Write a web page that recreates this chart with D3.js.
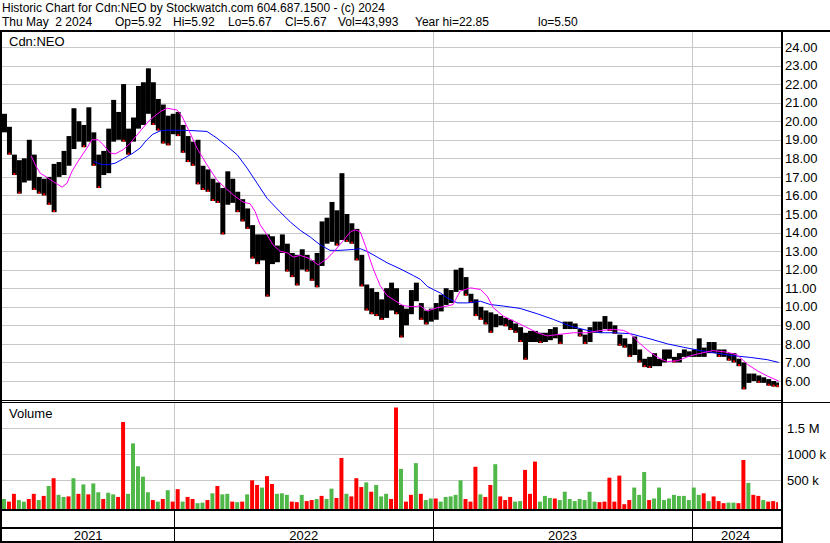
<!DOCTYPE html>
<html><head><meta charset="utf-8">
<script src="https://cdn.jsdelivr.net/npm/d3@7"></script>
<style>
body{margin:0;background:#fff;}
svg{display:block;font-family:"Liberation Sans",Arial,sans-serif;}
text{font-size:13px;fill:#000;}
</style></head><body>
<svg id="c" width="830" height="543"></svg>
<script>
const titleLine1 = "Historic Chart for Cdn:NEO by Stockwatch.com 604.687.1500 - (c) 2024";
const titleFields = ["Thu May  2 2024", "Op=5.92", "Hi=5.92", "Lo=5.67", "Cl=5.67", "Vol=43,993", "Year hi=22.85", "lo=5.50"];
const symbolLabel = "Cdn:NEO";
const volumeLabel = "Volume";
const firstWeek = "2021-05-03";
const lastDay = "2024-05-03";

// weekly high / low (price), one per week from firstWeek
const weeklyHigh = [20.4,19.7,18.2,17.9,18.0,19.0,18.2,17.0,16.9,17.0,
17.7,17.8,18.4,19.2,20.7,20.0,19.8,20.75,19.4,18.2,
18.4,19.6,21.15,20.5,22.0,19.6,20.2,21.9,22.1,22.85,
22.1,21.2,20.9,20.3,20.4,20.5,19.8,19.2,18.9,19.0,
17.6,17.4,16.9,16.7,16.4,17.3,16.9,16.2,15.8,15.3,
14.4,13.9,13.9,13.9,13.8,13.3,13.9,13.4,12.9,12.8,
13.1,12.8,12.5,12.9,14.6,14.8,15.65,15.2,17.2,15.0,
14.5,14.2,12.8,11.2,11.0,10.8,10.4,11.0,11.3,11.0,
10.1,9.9,10.9,11.3,10.2,9.8,9.9,10.2,10.65,11.0,
10.9,12.0,12.1,11.6,10.7,10.4,10.0,9.8,9.7,9.6,
9.5,9.4,9.3,9.1,8.9,8.6,8.7,8.7,8.6,8.6,
8.8,8.9,8.5,9.2,9.2,9.1,8.8,8.5,8.9,9.2,
9.2,9.5,9.2,9.0,8.5,8.3,8.0,8.4,7.7,7.2,
7.3,7.5,7.2,7.7,7.7,7.3,7.5,7.7,7.6,7.7,
8.3,7.8,8.1,8.1,7.7,7.7,7.5,7.5,7.2,7.0,
6.4,6.4,6.3,6.2,6.1,6.0,5.92];
const weeklyLow = [19.4,18.2,17.1,16.1,16.7,16.8,16.3,16.1,16.0,15.5,
15.1,17.0,17.1,17.6,18.5,18.9,18.6,18.9,17.6,16.4,
17.1,17.2,18.9,19.0,18.9,18.2,18.9,19.6,19.8,20.4,
19.8,19.5,18.8,18.7,19.3,19.2,18.3,17.8,17.6,16.6,
16.3,16.2,15.7,15.6,13.9,15.5,15.6,15.1,14.6,14.2,
12.6,12.3,12.5,10.55,12.3,12.4,12.9,11.9,11.6,11.15,
12.0,11.9,11.4,11.05,12.2,13.4,13.5,13.3,13.6,13.5,
13.4,12.5,11.1,9.8,9.6,9.5,9.3,9.4,9.8,9.6,
8.35,9.0,9.6,10.3,9.3,9.05,9.2,9.3,9.75,10.1,
10.2,10.8,10.9,10.6,10.2,9.5,9.3,9.05,8.6,8.9,
9.0,8.95,8.75,8.6,8.1,7.15,8.1,8.1,8.05,8.1,
8.2,8.3,8.0,8.8,8.8,8.8,8.4,8.0,8.1,8.6,
8.6,8.8,8.7,8.55,7.9,7.8,7.3,7.4,7.0,6.75,
6.7,6.8,6.8,7.0,7.2,7.0,7.0,7.3,7.3,7.3,
7.3,7.3,7.5,7.5,7.3,7.3,7.1,7.0,6.8,5.55,
5.9,6.0,5.9,5.9,5.75,5.7,5.67];

// weekly volume (thousands of shares) and direction (g = up, r = down)
const weeklyVolume = [140,90,240,120,90,140,240,120,200,390,
540,220,180,190,540,240,420,230,440,270,
140,260,230,180,1620,240,1210,770,570,270,
120,90,140,310,90,330,90,180,140,60,
70,120,250,390,230,240,90,80,90,230,
500,410,360,580,430,240,250,220,90,80,
220,100,120,140,200,140,340,160,930,240,
190,540,370,460,280,410,190,240,140,1900,
720,90,220,830,240,120,150,150,90,180,
190,220,500,140,90,760,230,180,410,810,
190,120,180,90,100,700,240,860,90,200,
160,150,120,280,140,100,140,120,280,90,
80,90,550,90,590,40,120,360,220,660,
120,150,360,120,150,220,200,200,120,360,
220,250,100,190,100,60,70,70,60,890,
450,220,200,120,90,100,80];
const volumeDirection = "grrggrrgrg" + "rggrgrgrgg" + "rggrrggggg" + "rgrgrrgrrg" +
  "grgrggrgrg" + "rrgrrgggrr" + "grrgrggrrg" + "rrrgrgggrr" + "grrgrggrgg" +
  "gggrrrgrrg" + "rrrggrrrgg" + "grgggggggg" + "rrrrrrrggg" + "rggggggggg" +
  "grgrrrggrr" + "grrgrrr";

// moving averages: position in weeks from firstWeek, price
const maFastWeek = [5.9,6.7,7.7,9.1,10.3,12.1,13.1,14.1,15.3,17.1,18.1,19.4,20.4,21.8,22.8,24.4,25.8,27.8,29.8,31.9,
33.3,35.3,36.3,37.9,39.3,41.3,43.3,45.0,46.6,48.6,50.0,51.0,52.0,53.4,54.6,56.0,57.5,58.7,60.1,62.1,
63.7,65.5,67.1,68.8,70.2,71.2,72.2,73.2,74.8,76.2,77.6,79.2,80.8,82.9,84.3,85.7,87.7,89.7,90.9,92.3,
94.4,96.4,97.8,99.0,101.0,103.8,105.8,107.9,109.9,112.5,115.1,117.9,120.6,123.2,125.2,126.6,128.6,130.6,132.7,134.1,
136.1,138.7,140.7,143.3,146.2,148.2,150.2,152.2,154.2,156.5];
const maFastValue = [18.13,17.65,17.2,16.97,16.75,16.45,16.66,17.3,17.83,18.55,19.0,19.0,18.73,18.28,18.24,18.46,18.8,19.45,20.07,20.52,
20.7,20.6,20.25,19.36,18.55,17.65,16.84,16.4,16.03,15.64,15.55,15.14,14.42,13.88,13.34,13.0,12.9,12.68,12.77,12.59,
12.26,12.59,13.04,13.58,14.03,14.15,14.03,13.31,12.05,11.14,10.6,10.33,10.06,10.0,10.05,9.77,9.95,10.04,10.12,10.84,
11.02,10.93,10.57,9.95,9.5,9.14,8.88,8.6,8.43,8.52,8.6,8.6,8.72,8.78,8.73,8.55,8.0,7.55,7.18,7.05,
7.09,7.36,7.49,7.64,7.55,7.4,6.9,6.55,6.27,6.0];
const maSlowWeek = [18.5,19.8,21.2,22.8,24.4,26.4,27.8,29.2,30.4,31.9,33.3,37.9,41.3,43.3,45.4,47.4,49.4,51.4,53.4,56.0,
58.1,60.1,62.1,64.1,66.1,68.1,70.8,72.2,73.6,75.6,77.6,80.2,82.9,84.3,85.7,86.9,88.3,89.7,91.7,93.8,
96.4,98.4,101.0,104.4,107.9,111.1,114.5,117.9,120.6,123.2,126.6,130.6,134.1,137.3,140.7,144.2,147.4,150.8,154.2,156.5];
const maSlowValue = [17.83,17.69,17.65,17.74,17.97,18.28,18.55,19.0,19.3,19.48,19.52,19.5,19.45,19.09,18.64,18.19,17.47,16.66,15.85,15.12,
14.57,14.12,13.76,13.34,13.04,13.04,13.09,13.13,12.98,12.68,12.37,12.05,11.68,11.48,11.1,10.93,10.75,10.48,10.21,10.21,
10.3,10.12,10.04,9.91,9.62,9.32,8.96,8.73,8.6,8.6,8.55,8.27,8.0,7.82,7.64,7.49,7.36,7.27,7.15,7.0];

const priceTicks = [6,7,8,9,10,11,12,13,14,15,16,17,18,19,20,21,22,23,24];
const volumeTicks = [500,1000,1500];
const volumeTickLabels = ["500 k","1000 k","1.5 M"];
const yearStarts = ["2022-01-01","2023-01-01","2024-01-01"];
const yearLabels = ["2021","2022","2023","2024"];

// ---------- layout ----------
const L = 2, R = 781, PT = 31, PB = 400, VT = 403, VB = 509;
const fieldX = [2, 115, 173, 228, 285, 338, 415, 538];
const svg = d3.select("#c");
const parse = d3.timeParse("%Y-%m-%d");
const t0 = parse(firstWeek), t1 = parse(lastDay);
const x = d3.scaleTime().domain([t0, t1]).range([2, 779]);
const weekDate = w => new Date(t0.getTime() + w * 7 * 864e5);
const yP = d3.scaleLinear().domain([6, 24]).range([381, 47]);
const yV = d3.scaleLinear().domain([0, 1500]).range([506.3, 428.3]);
const nb = s => s.replace(/ /g, "\u00a0");

svg.append("rect").attr("width", 830).attr("height", 543).attr("fill", "#fff");

svg.append("text").attr("x", 2).attr("y", 12).style("font-size", "12px").text(nb(titleLine1));
svg.append("g").selectAll("text").data(titleFields).join("text")
  .attr("x", (d, i) => fieldX[i]).attr("y", 26).style("font-size", "12px").text(d => nb(d));

const defs = svg.append("defs");
defs.append("clipPath").attr("id", "cp").append("rect").attr("x", L).attr("y", PT).attr("width", R - L).attr("height", PB - PT);
defs.append("clipPath").attr("id", "cv").append("rect").attr("x", L).attr("y", VT).attr("width", R - L).attr("height", VB - VT);

// gridlines
const grid = svg.append("g").attr("stroke", "#c8c8c8").attr("stroke-width", 1).attr("shape-rendering", "crispEdges");
priceTicks.forEach(t => grid.append("line").attr("x1", L).attr("x2", R).attr("y1", Math.round(yP(t)) + 0.5).attr("y2", Math.round(yP(t)) + 0.5));
volumeTicks.forEach(t => grid.append("line").attr("x1", L).attr("x2", R).attr("y1", Math.round(yV(t)) + 0.5).attr("y2", Math.round(yV(t)) + 0.5));
const yearX = yearStarts.map(s => Math.round(x(parse(s))) + 0.5);
yearX.forEach(xx => {
  grid.append("line").attr("x1", xx).attr("x2", xx).attr("y1", PT).attr("y2", PB);
  grid.append("line").attr("x1", xx).attr("x2", xx).attr("y1", VT).attr("y2", VB);
});

// axis labels
svg.append("g").selectAll("text").data(priceTicks).join("text")
  .attr("x", 785).attr("y", d => yP(d)).attr("dy", "0.36em").text(d => d.toFixed(2));
svg.append("g").selectAll("text").data(volumeTicks).join("text")
  .attr("x", 787).attr("y", d => yV(d)).attr("dy", "0.36em").text((d, i) => nb(volumeTickLabels[i]));

svg.append("text").attr("x", 9).attr("y", 46).text(symbolLabel);
svg.append("text").attr("x", 9).attr("y", 418).text(volumeLabel);

// price bars
const pg = svg.append("g").attr("clip-path", "url(#cp)");
const bars = weeklyHigh.map((h, i) => {
  const xa = x(weekDate(i)), xb = Math.min(x(weekDate(i + 1)), x(t1));
  return {i, h, l: weeklyLow[i], xa, xb};
});
pg.selectAll("rect.b").data(bars).join("rect").attr("class", "b")
  .attr("x", d => d.xa).attr("width", d => d.xb - d.xa)
  .attr("y", d => yP(d.h)).attr("height", d => Math.max(1, yP(d.l) - yP(d.h)))
  .attr("fill", "#000");
pg.selectAll("rect.d").data(bars.filter(d => d.i > 0 && d.l < weeklyLow[d.i - 1])).join("rect").attr("class", "d")
  .attr("x", d => (d.xa + d.xb) / 2 - 1).attr("width", 2)
  .attr("y", d => yP(d.l) - 2).attr("height", 2).attr("fill", "#ff0000");

// moving averages
const line = d3.line().x(d => x(weekDate(d[0]))).y(d => yP(d[1]));
pg.append("path").datum(maSlowWeek.map((w, i) => [w, maSlowValue[i]]))
  .attr("d", line).attr("fill", "none").attr("stroke", "#0000ff").attr("stroke-width", 1);
pg.append("path").datum(maFastWeek.map((w, i) => [w, maFastValue[i]]))
  .attr("d", line).attr("fill", "none").attr("stroke", "#ff00ff").attr("stroke-width", 1);

// volume bars
const vg = svg.append("g").attr("clip-path", "url(#cv)");
const vColor = {g: "#50b848", r: "#ff0000", n: "#a0a0a0"};
vg.selectAll("rect").data(weeklyVolume.map((v, i) => ({v, i, xa: x(weekDate(i)), xb: Math.min(x(weekDate(i + 1)), x(t1))})))
  .join("rect")
  .attr("x", d => d.xa).attr("width", d => Math.max(1, d.xb - d.xa - 1))
  .attr("y", d => yV(d.v)).attr("height", d => VB - yV(d.v))
  .attr("fill", d => vColor[volumeDirection[d.i]]);

// frame
const fr = svg.append("g").attr("fill", "#000").attr("shape-rendering", "crispEdges");
[[0,30,830,2],[0,30,2,513],[781,30,2,513],[L,400,R-L,1],[L,402,828,1],[L,509,R-L,2],[L,527,R-L,2],[0,541,783,2]]
  .forEach(r => fr.append("rect").attr("x", r[0]).attr("y", r[1]).attr("width", r[2]).attr("height", r[3]));
const axg = svg.append("g").attr("stroke", "#000").attr("shape-rendering", "crispEdges");
yearX.forEach(xx => axg.append("line").attr("x1", xx).attr("x2", xx).attr("y1", 511).attr("y2", 541));

// year labels
const bounds = [x(t0)].concat(yearStarts.map(s => x(parse(s)))).concat([x(t1)]);
svg.append("g").selectAll("text").data(yearLabels).join("text")
  .attr("x", (d, i) => (bounds[i] + bounds[i + 1]) / 2).attr("y", 540)
  .attr("text-anchor", "middle").text(d => d);
</script>
</body></html>
